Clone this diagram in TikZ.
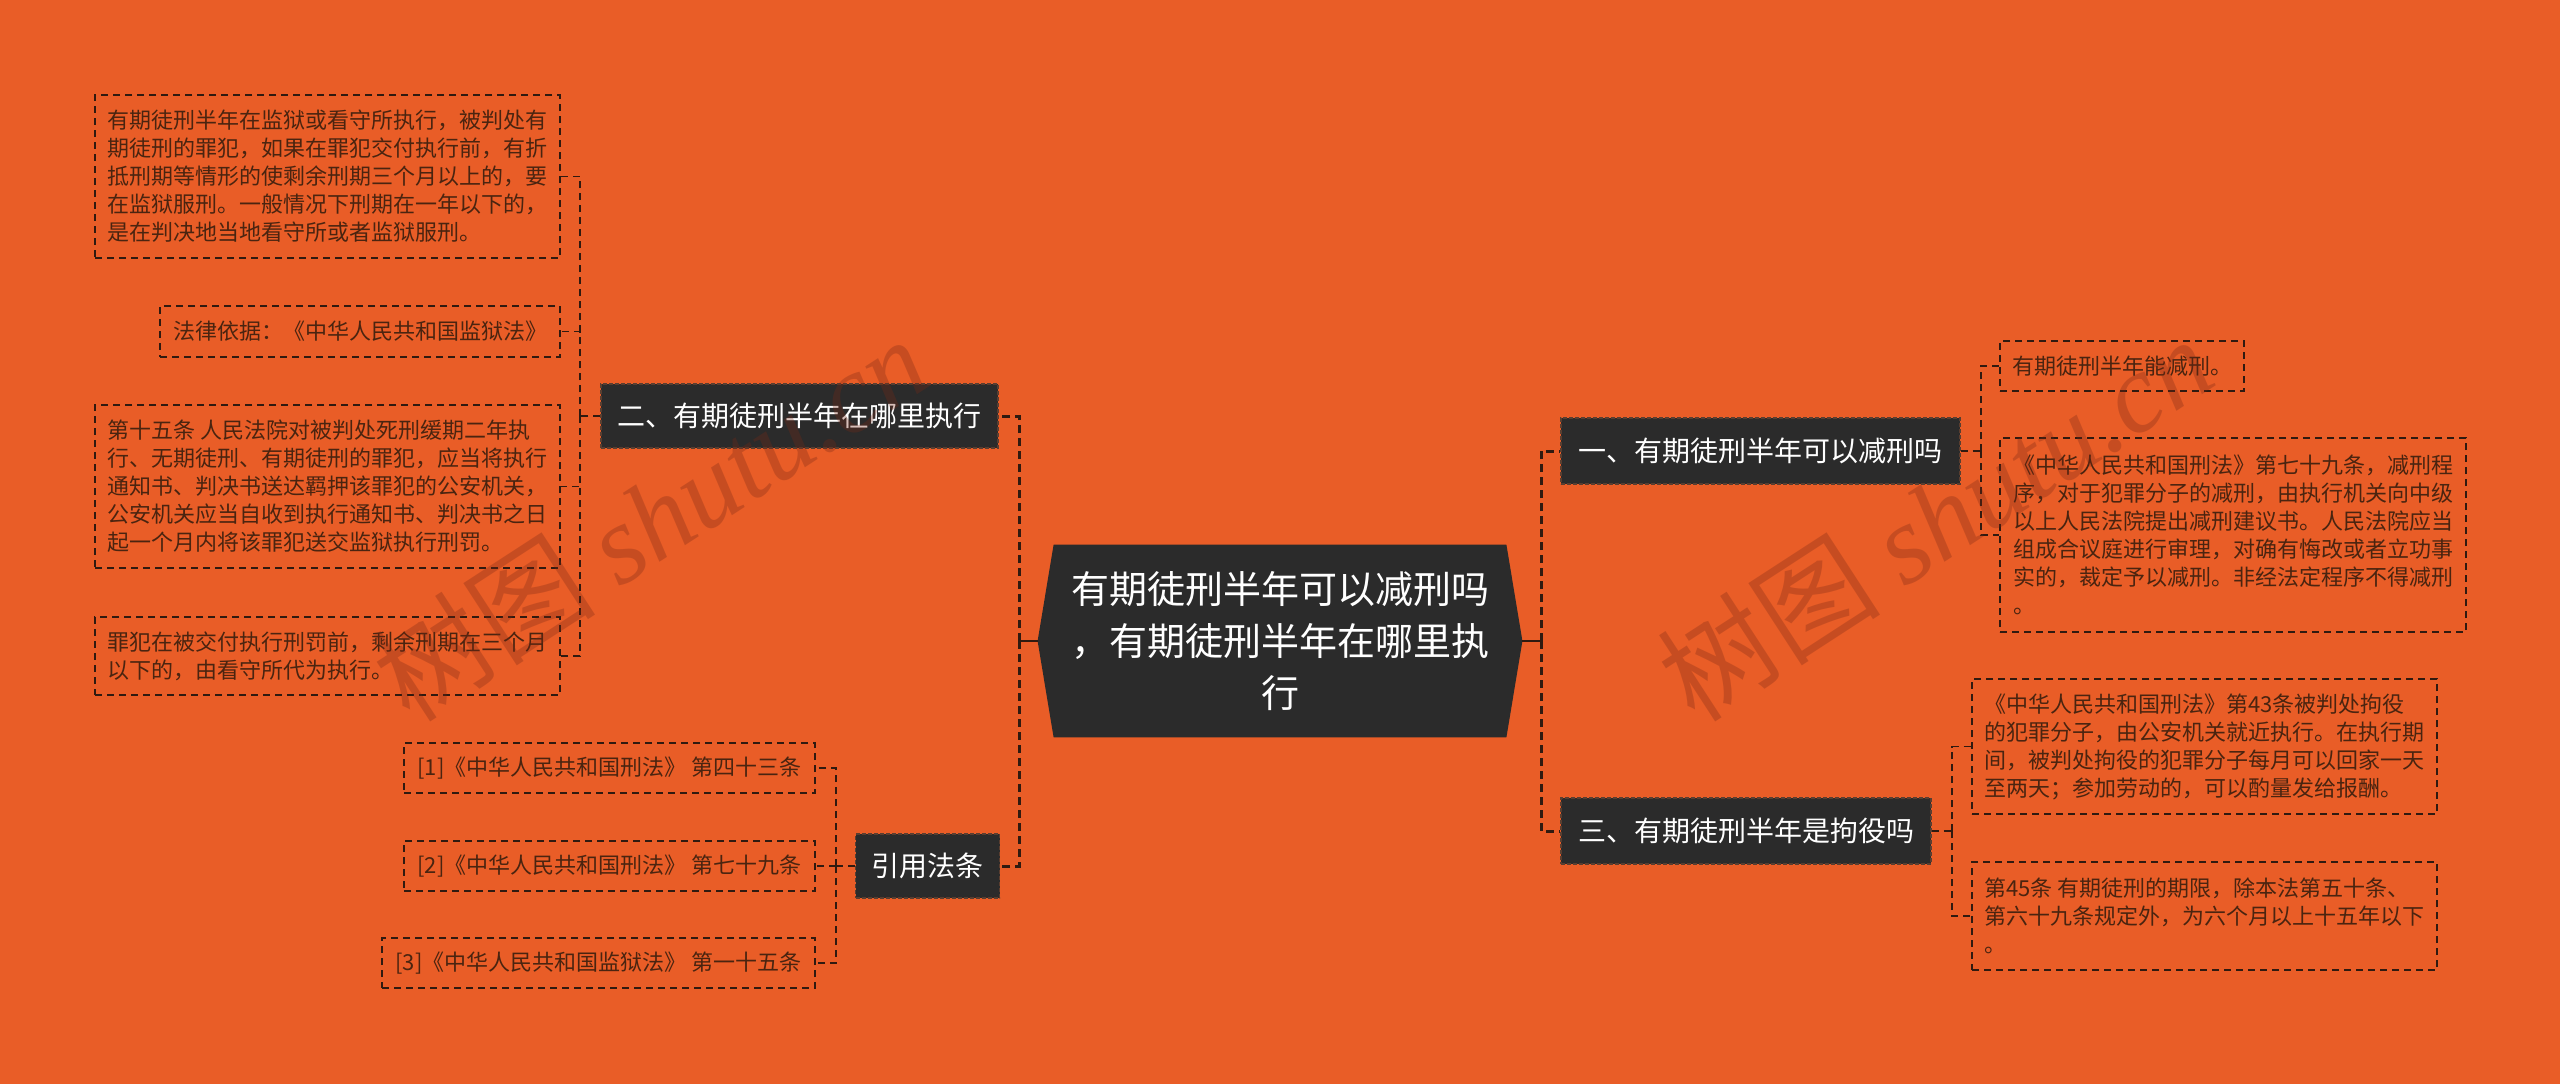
\documentclass[tikz,border=0pt]{standalone}
\usepackage{fontspec}
\setmainfont{Noto Sans CJK SC}
\newfontfamily\wmserif{Liberation Serif}
\usetikzlibrary{calc}
\pgfdeclarelayer{bg}
\pgfsetlayers{bg,main}
\definecolor{bgc}{RGB}{233,93,39}
\definecolor{boxc}{RGB}{43,43,43}
\definecolor{boxedge}{RGB}{90,62,48}
\definecolor{linec}{RGB}{48,26,16}
\definecolor{leaftext}{RGB}{74,36,16}
\definecolor{wmc}{RGB}{120,40,20}
\tikzset{
  sz/.style n args={2}{minimum width=#1*0.5pt, minimum height=#2*0.5pt},
  leaf/.style={draw=linec, line width=0.75pt, dash pattern=on 3.5pt off 2.5pt,
    text=leaftext, font=\fontsize{11}{14}\selectfont, align=left, inner sep=0pt},
  title/.style={fill=boxc, draw=boxedge, line width=0.6pt, dash pattern=on 2pt off 1pt,
    text=white, font=\fontsize{14}{17}\selectfont, inner sep=0pt},
  mainln/.style={draw=linec, line width=1.5pt, dash pattern=on 4pt off 2.5pt},
  solidln/.style={draw=linec, line width=1.2pt},
  leafln/.style={draw=linec, line width=0.75pt, dash pattern=on 3.5pt off 2.5pt},
  wm/.style={text=wmc, opacity=0.3, rotate=33, font=\fontsize{56}{64}\selectfont}
}
\begin{document}
\begin{tikzpicture}[x=0.5pt,y=-0.5pt]
\useasboundingbox (0,0) rectangle (2560,1084);

% central node
\node[text=white, font=\fontsize{19}{26}\selectfont, align=center, inner sep=0pt, sz={484}{192}] (ctr) at (1280,641)
  {有期徒刑半年可以减刑吗\\，有期徒刑半年在哪里执\\行};
\begin{pgfonlayer}{bg}
\fill[bgc] (0,0) rectangle (2560,1084);
\fill[boxc] (ctr.west) -- ($(ctr.north west)+(16,0)$) -- ($(ctr.north east)+(-16,0)$) -- (ctr.east)
  -- ($(ctr.south east)+(-16,0)$) -- ($(ctr.south west)+(16,0)$) -- cycle;
\end{pgfonlayer}

% branch titles
\node[title, sz={397}{64}] (n2) at (799.5,416) {二、有期徒刑半年在哪里执行};
\node[title, sz={144}{64}] (n4) at (927.5,866) {引用法条};
\node[title, sz={399}{66}] (n1) at (1760.5,451) {一、有期徒刑半年可以减刑吗};
\node[title, sz={370}{66}] (n3) at (1746,831) {三、有期徒刑半年是拘役吗};

% left leaves
\node[leaf, sz={465}{163}] (L1) at (327.5,176.5)
  {有期徒刑半年在监狱或看守所执行，被判处有\\期徒刑的罪犯，如果在罪犯交付执行前，有折\\抵刑期等情形的使剩余刑期三个月以上的，要\\在监狱服刑。一般情况下刑期在一年以下的，\\是在判决地当地看守所或者监狱服刑。};
\node[leaf, sz={400}{51}] (L2) at (360,331.5) {法律依据：《中华人民共和国监狱法》};
\node[leaf, sz={465}{163}] (L3) at (327.5,486.5)
  {第十五条 人民法院对被判处死刑缓期二年执\\行、无期徒刑、有期徒刑的罪犯，应当将执行\\通知书、判决书送达羁押该罪犯的公安机关，\\公安机关应当自收到执行通知书、判决书之日\\起一个月内将该罪犯送交监狱执行刑罚。};
\node[leaf, sz={465}{78}] (L4) at (327.5,656)
  {罪犯在被交付执行刑罚前，剩余刑期在三个月\\以下的，由看守所代为执行。};

% citations
\node[leaf, sz={411}{50}] (C1) at (609.5,768) {[1]《中华人民共和国刑法》 第四十三条};
\node[leaf, sz={411}{50}] (C2) at (609.5,866) {[2]《中华人民共和国刑法》 第七十九条};
\node[leaf, sz={433}{50}] (C3) at (598.5,963) {[3]《中华人民共和国监狱法》 第一十五条};

% right leaves
\node[leaf, sz={244}{50}] (R1) at (2122,366) {有期徒刑半年能减刑。};
\node[leaf, sz={466}{194}] (R2) at (2233,535)
  {《中华人民共和国刑法》第七十九条，减刑程\\序，对于犯罪分子的减刑，由执行机关向中级\\以上人民法院提出减刑建议书。人民法院应当\\组成合议庭进行审理，对确有悔改或者立功事\\实的，裁定予以减刑。非经法定程序不得减刑\\。};
\node[leaf, sz={465}{135}] (R3) at (2204.5,746.5)
  {《中华人民共和国刑法》第43条被判处拘役\\的犯罪分子，由公安机关就近执行。在执行期\\间，被判处拘役的犯罪分子每月可以回家一天\\至两天；参加劳动的，可以酌量发给报酬。};
\node[leaf, sz={465}{108}] (R4) at (2204.5,916)
  {第45条 有期徒刑的期限，除本法第五十条、\\第六十九条规定外，为六个月以上十五年以下\\。};

% main connectors
\coordinate (jl) at (1019,641);
\coordinate (jr) at (1541,641);
\draw[solidln] (ctr.west) -- (jl);
\draw[mainln] (jl) |- (n2.east);
\draw[mainln] (jl) |- (n4.east);
\draw[solidln] (ctr.east) -- (jr);
\draw[mainln] (jr) |- (n1.west);
\draw[mainln] (jr) |- (n3.west);

% leaf connectors: n2
\coordinate (s2) at (580,416);
\draw[leafln] (n2.west) -- (s2);
\draw[leafln] (s2) |- (L1.east);
\draw[leafln] (s2) |- (L2.east);
\draw[leafln] (s2) |- (L3.east);
\draw[leafln] (s2) |- (L4.east);
% n4
\coordinate (s4) at (836,866);
\draw[leafln] (n4.west) -- (s4);
\draw[leafln] (s4) |- (C1.east);
\draw[leafln] (s4) |- (C2.east);
\draw[leafln] (s4) |- (C3.east);
% n1
\coordinate (s1) at (1981,451);
\draw[leafln] (n1.east) -- (s1);
\draw[leafln] (s1) |- (R1.west);
\draw[leafln] (s1) |- (R2.west);
% n3
\coordinate (s3) at (1952,831);
\draw[leafln] (n3.east) -- (s3);
\draw[leafln] (s3) |- (R3.west);
\draw[leafln] (s3) |- (R4.west);

% watermarks
\node[wm] (wm1) at (650,518) {树图 {\wmserif\itshape shutu.cn}};
\node[wm] (wm2) at (1935,518) {树图 {\wmserif\itshape shutu.cn}};
\end{tikzpicture}
\end{document}
